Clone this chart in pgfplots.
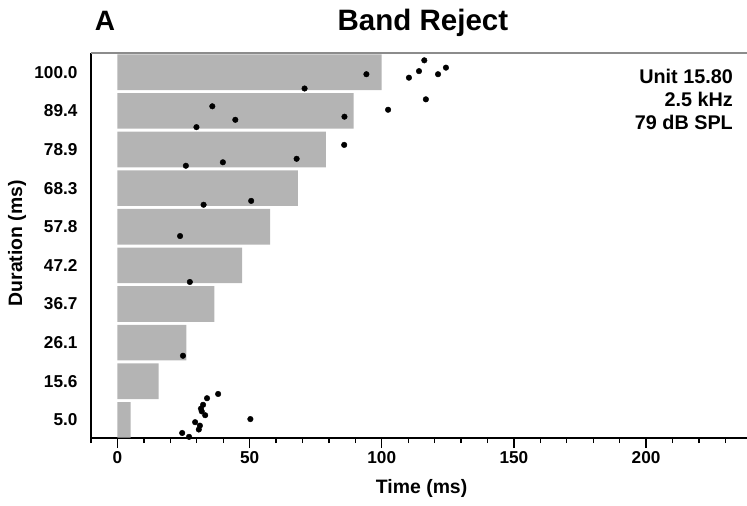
\documentclass[border=0pt]{standalone}
\usepackage{fontspec}
\setmainfont{Liberation Sans}
\usepackage{pgfplots}
\pgfplotsset{compat=1.18}
\definecolor{bargray}{RGB}{180,180,180}
\definecolor{topgray}{RGB}{140,140,140}
\begin{document}
\begin{tikzpicture}
\begin{axis}[
  at={(0,0)}, anchor=south west,
  scale only axis, width=656pt, height=385pt,
  xmin=-10, xmax=238.2, ymin=-0.47, ymax=9.5,
  clip mode=individual,
  axis x line*=bottom, axis y line*=left,
  axis line style={-, line width=1.6pt, black},
  xtick={0,50,100,150,200},
  minor xtick={-10,10,20,30,40,60,70,80,90,110,120,130,140,160,170,180,190,210,220,230},
  tick align=outside,
  major tick length=10pt, minor tick length=5pt,
  x tick style={line width=1.3pt, black},
  minor x tick style={line width=1.3pt, black},
  ytick={0,...,9},
  yticklabels={5.0,15.6,26.1,36.7,47.2,57.8,68.3,78.9,89.4,100.0},
  y tick style={draw=none},
  tick label style={font=\bfseries\fontsize{17.2}{20}\selectfont},
  /pgf/number format/assume math mode=true,
  xlabel={Time (ms)},
  xlabel style={at={(axis description cs:0.504,-0.13)}, anchor=center, font=\bfseries\fontsize{19.4}{22}\selectfont},
  ylabel={Duration (ms)},
  ylabel style={at={(axis description cs:-0.1128,0.506)}, anchor=center, font=\bfseries\fontsize{19.4}{22}\selectfont},
  title={Band Reject},
  title style={at={(axis description cs:0.506,1.0597)}, anchor=base, yshift=-6pt, inner sep=0pt, font=\bfseries\fontsize{29.5}{32}\selectfont},
]
\addplot[xbar, bar width=0.922, fill=bargray, draw=none] coordinates {
  (5.0,0) (15.6,1) (26.1,2) (36.7,3) (47.2,4) (57.8,5) (68.3,6) (78.9,7) (89.4,8) (100.0,9)
};
\addplot[only marks, mark=*, mark size=2.8pt, black] coordinates {
  (116.1,9.31) (124.3,9.12) (114.1,9.03) (110.3,8.86) (121.3,8.95) (94.2,8.95)
  (70.8,8.58) (116.7,8.30) (102.4,8.03) (85.9,7.85) (85.8,7.12)
  (35.9,8.12) (44.6,7.77) (29.9,7.58)
  (67.8,6.76) (39.9,6.67) (25.9,6.58)
  (50.6,5.67) (32.6,5.57)
  (23.7,4.76)
  (27.4,3.57)
  (24.8,1.66)
  (38.1,0.67) (33.9,0.56) (32.4,0.39) (31.6,0.29) (31.9,0.22) (33.2,0.12)
  (50.3,0.02) (29.4,-0.06) (31.2,-0.15) (30.8,-0.25) (24.5,-0.34) (27.1,-0.44)
};
\draw[topgray, line width=1.2pt] (rel axis cs:0,1) -- (rel axis cs:1,1);
\node[anchor=base, inner sep=0pt, font=\bfseries\fontsize{28}{30}\selectfont] at (rel axis cs:0.0213,1.0597) {A};
\node[anchor=base east, inner sep=0pt, font=\bfseries\fontsize{19.8}{22}\selectfont] at (rel axis cs:0.9787,0.9213) {Unit 15.80};
\node[anchor=base east, inner sep=0pt, font=\bfseries\fontsize{19.8}{22}\selectfont] at (rel axis cs:0.9787,0.8605) {2.5 kHz};
\node[anchor=base east, inner sep=0pt, font=\bfseries\fontsize{19.8}{22}\selectfont] at (rel axis cs:0.9787,0.8) {79 dB SPL};
\end{axis}
\pgfresetboundingbox
\useasboundingbox (-91pt,-68pt) rectangle (656pt,438pt);
\end{tikzpicture}
\end{document}
